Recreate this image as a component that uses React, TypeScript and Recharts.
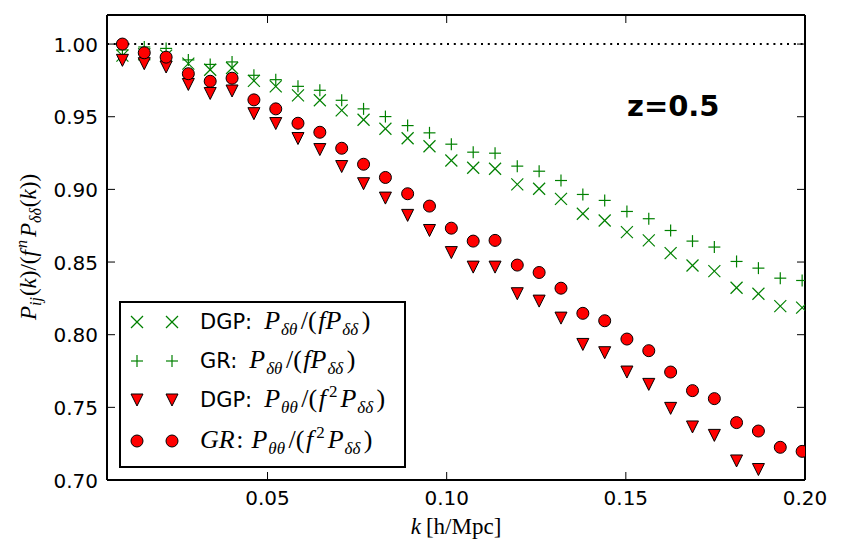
import React from 'react';
import {
  ScatterChart,
  Scatter,
  XAxis,
  YAxis,
  ReferenceLine,
  Legend,
  Customized,
} from 'recharts';

// Wavenumbers k [h/Mpc]
const K = [
  0.0095, 0.0156, 0.0217, 0.0279, 0.034, 0.0401, 0.0462, 0.0523, 0.0585, 0.0646,
  0.0707, 0.0768, 0.0829, 0.0891, 0.0952, 0.1013, 0.1074, 0.1135, 0.1197, 0.1258,
  0.1319, 0.138, 0.1441, 0.1503, 0.1564, 0.1625, 0.1686, 0.1747, 0.1809, 0.187,
  0.1931, 0.1992,
];

// DGP: P_dt / (f P_dd)
const DGP_DT = [
  0.992, 0.993, 0.992, 0.9865, 0.9823, 0.9835, 0.9747, 0.9709, 0.9647, 0.9613,
  0.9544, 0.9479, 0.9417, 0.9352, 0.9297, 0.9199, 0.9149, 0.9142, 0.9034, 0.9004,
  0.8935, 0.8832, 0.8786, 0.8706, 0.8649, 0.8561, 0.8476, 0.8437, 0.8323, 0.8282,
  0.8197, 0.8186,
];

// GR: P_dt / (f P_dd)
const GR_DT = [
  0.996, 0.998, 0.997, 0.9891, 0.986, 0.9877, 0.9785, 0.9755, 0.9709, 0.9682,
  0.9613, 0.9554, 0.9501, 0.9439, 0.9389, 0.9311, 0.9256, 0.9249, 0.916, 0.9125,
  0.9061, 0.8965, 0.8924, 0.8848, 0.8798, 0.8717, 0.8644, 0.8603, 0.8504, 0.8458,
  0.8389, 0.8373,
];

// DGP: P_tt / (f^2 P_dd)  (remaining points fall below the axis range)
const DGP_TT = [
  0.9888, 0.9865, 0.9842, 0.9722, 0.966, 0.9677, 0.9521, 0.9453, 0.935, 0.9274,
  0.9157, 0.9039, 0.894, 0.8821, 0.8717, 0.8565, 0.8465, 0.8465, 0.8282, 0.8231,
  0.8114, 0.7933, 0.7876, 0.7743, 0.7658, 0.7493, 0.7365, 0.7307, 0.7131, 0.7072,
];

// GR: P_tt / (f^2 P_dd)
const GR_TT = [
  1.0, 0.994, 0.991, 0.9796, 0.9744, 0.9765, 0.9616, 0.9554, 0.9455, 0.9393,
  0.9283, 0.9173, 0.9082, 0.897, 0.8885, 0.8733, 0.8644, 0.8649, 0.8479, 0.8428,
  0.832, 0.8147, 0.8096, 0.797, 0.789, 0.7743, 0.7615, 0.756, 0.7395, 0.7337,
  0.7225, 0.7197,
];

const X_TICKS = [0.05, 0.1, 0.15, 0.2];
const Y_TICKS = [0.7, 0.75, 0.8, 0.85, 0.9, 0.95, 1.0];
const X_DOMAIN: [number, number] = [0.0052, 0.2];
const Y_DOMAIN: [number, number] = [0.7, 1.02];
const REDSHIFT_LABEL = 'z=0.5';

const W = 843;
const H = 559;
const MARGIN = { top: 15, right: 38, left: 0, bottom: 0 };
const Y_AXIS_W = 107;
const X_AXIS_H = 79;
const PLOT_W = W - MARGIN.right - Y_AXIS_W;
const PLOT_H = H - MARGIN.top - X_AXIS_H;

const GREEN = '#008000';
const RED = '#ff0000';
const SANS = '"DejaVu Sans", sans-serif';
const MATH = '"Liberation Serif", "DejaVu Serif", serif';
const TICK_LEN = 8;
const MS = 6; // marker half-size

const toPoints = (vals: number[]) => vals.map((v, i) => ({ k: K[i], v }));

const XMark = ({ cx, cy }: any) => (
  <g stroke={GREEN} strokeWidth={1.2}>
    <line x1={cx - MS} y1={cy - MS} x2={cx + MS} y2={cy + MS} />
    <line x1={cx - MS} y1={cy + MS} x2={cx + MS} y2={cy - MS} />
  </g>
);

const PlusMark = ({ cx, cy }: any) => (
  <g stroke={GREEN} strokeWidth={1.2}>
    <line x1={cx - MS} y1={cy} x2={cx + MS} y2={cy} />
    <line x1={cx} y1={cy - MS} x2={cx} y2={cy + MS} />
  </g>
);

const TriMark = ({ cx, cy }: any) => (
  <path
    d={`M${cx - MS},${cy - MS} L${cx + MS},${cy - MS} L${cx},${cy + MS} Z`}
    fill={RED}
    stroke="#000"
    strokeWidth={1}
  />
);

const DotMark = ({ cx, cy }: any) => (
  <circle cx={cx} cy={cy} r={MS} fill={RED} stroke="#000" strokeWidth={1} />
);

const XTick = ({ x, y, payload }: any) => (
  <g>
    <line x1={x} y1={y} x2={x} y2={y - TICK_LEN} stroke="#000" strokeWidth={1} />
    <line x1={x} y1={y - PLOT_H} x2={x} y2={y - PLOT_H + TICK_LEN} stroke="#000" strokeWidth={1} />
    <text x={x} y={y + 25} textAnchor="middle" fontFamily={SANS} fontSize={20} fill="#000">
      {payload.value.toFixed(2)}
    </text>
  </g>
);

const YTick = ({ x, y, payload }: any) => (
  <g>
    <line x1={x} y1={y} x2={x + TICK_LEN} y2={y} stroke="#000" strokeWidth={1} />
    <line x1={x + PLOT_W} y1={y} x2={x + PLOT_W - TICK_LEN} y2={y} stroke="#000" strokeWidth={1} />
    <text x={x - 9} y={y + 7.5} textAnchor="end" fontFamily={SANS} fontSize={20} fill="#000">
      {payload.value.toFixed(2)}
    </text>
  </g>
);

// Inline math pieces for the legend
const Sub = ({ children }: any) => (
  <span style={{ fontSize: 17, position: 'relative', top: 6, marginLeft: 1, marginRight: 2 }}>{children}</span>
);
const Sup = ({ children }: any) => (
  <span style={{ fontSize: 17, fontStyle: 'normal', position: 'relative', top: -10, marginLeft: 3, marginRight: 3 }}>
    {children}
  </span>
);
const Up = ({ children }: any) => (
  <span style={{ fontStyle: 'normal', margin: '0 1.5px' }}>{children}</span>
);
const Math = ({ children, gap = 12 }: any) => (
  <span style={{ fontFamily: MATH, fontStyle: 'italic', fontSize: 26, marginLeft: gap }}>{children}</span>
);

const SERIES = [
  {
    key: 'dgp-dt',
    data: toPoints(DGP_DT),
    shape: XMark,
    label: (
      <>
        <span style={{ fontFamily: SANS }}>DGP:</span>
        <Math>
          P<Sub>δθ</Sub>
          <Up>/(</Up>fP<Sub>δδ</Sub>
          <Up>)</Up>
        </Math>
      </>
    ),
  },
  {
    key: 'gr-dt',
    data: toPoints(GR_DT),
    shape: PlusMark,
    label: (
      <>
        <span style={{ fontFamily: SANS }}>GR:</span>
        <Math>
          P<Sub>δθ</Sub>
          <Up>/(</Up>fP<Sub>δδ</Sub>
          <Up>)</Up>
        </Math>
      </>
    ),
  },
  {
    key: 'dgp-tt',
    data: toPoints(DGP_TT),
    shape: TriMark,
    label: (
      <>
        <span style={{ fontFamily: SANS }}>DGP:</span>
        <Math>
          P<Sub>θθ</Sub>
          <Up>/(</Up>f<Sup>2</Sup>P<Sub>δδ</Sub>
          <Up>)</Up>
        </Math>
      </>
    ),
  },
  {
    key: 'gr-tt',
    data: toPoints(GR_TT),
    shape: DotMark,
    label: (
      <Math gap={0}>
        GR<Up>:</Up> P<Sub>θθ</Sub>
        <Up>/(</Up>f<Sup>2</Sup>P<Sub>δδ</Sub>
        <Up>)</Up>
      </Math>
    ),
  },
];

const LEGEND_ROWS = [21, 60, 99, 140];

const LegendBox = () => (
  <div
    style={{
      position: 'relative',
      width: 287,
      height: 167,
      boxSizing: 'border-box',
      border: '2px solid #000',
      background: '#fff',
    }}
  >
    {SERIES.map((s, i) => {
      const Shape = s.shape;
      return (
        <div
          key={s.key}
          style={{
            position: 'absolute',
            left: 0,
            top: LEGEND_ROWS[i] - 2 - 16,
            height: 32,
            width: 283,
            display: 'flex',
            alignItems: 'center',
            whiteSpace: 'nowrap',
          }}
        >
          <svg width={79} height={32} style={{ flex: 'none' }}>
            <Shape cx={16} cy={16} />
            <Shape cx={51} cy={16} />
          </svg>
          <span style={{ fontSize: 21, lineHeight: '32px', color: '#000', fontFamily: SANS }}>{s.label}</span>
        </div>
      );
    })}
  </div>
);

const Annotations = () => (
  <g>
    <text x={627} y={116} fontFamily={SANS} fontWeight="bold" fontSize={29} fill="#000">
      {REDSHIFT_LABEL}
    </text>
    <text
      x={36}
      y={247}
      transform="rotate(-90, 36, 247)"
      textAnchor="middle"
      fontFamily={MATH}
      fontSize={23}
      fill="#000"
    >
      <tspan fontStyle="italic">P</tspan>
      <tspan fontStyle="italic" fontSize={16} dy={5}>ij</tspan>
      <tspan dy={-5} dx={1}>(</tspan>
      <tspan fontStyle="italic">k</tspan>
      <tspan>)/(</tspan>
      <tspan fontStyle="italic">f</tspan>
      <tspan fontStyle="italic" fontSize={16} dy={-9} dx={2}>n</tspan>
      <tspan fontStyle="italic" dy={9} dx={3}>P</tspan>
      <tspan fontStyle="italic" fontSize={16} dy={5}>δδ</tspan>
      <tspan dy={-5} dx={1}>(</tspan>
      <tspan fontStyle="italic">k</tspan>
      <tspan>))</tspan>
    </text>
    <text x={456} y={534} textAnchor="middle" fontFamily={MATH} fontSize={23} fill="#000">
      <tspan fontStyle="italic">k</tspan>
      <tspan dx={5}>[h/Mpc]</tspan>
    </text>
  </g>
);

export default function App() {
  return (
    <div style={{ position: 'absolute', left: 0, top: 0, width: W, height: H, background: '#fff' }}>
      <ScatterChart width={W} height={H} margin={MARGIN}>
        <XAxis
          type="number"
          dataKey="k"
          domain={X_DOMAIN}
          ticks={X_TICKS}
          allowDataOverflow
          height={X_AXIS_H}
          tickSize={0}
          tickMargin={0}
          tickLine={false}
          axisLine={{ stroke: '#000', strokeWidth: 2 }}
          tick={<XTick />}
          interval={0}
        />
        <YAxis
          type="number"
          dataKey="v"
          domain={Y_DOMAIN}
          ticks={Y_TICKS}
          allowDataOverflow
          width={Y_AXIS_W}
          tickSize={0}
          tickMargin={0}
          tickLine={false}
          axisLine={{ stroke: '#000', strokeWidth: 2 }}
          tick={<YTick />}
          interval={0}
        />
        <ReferenceLine y={1.0} stroke="#000" strokeWidth={2} strokeDasharray="2 4.8" />
        {SERIES.map((s) => (
          <Scatter
            key={s.key}
            name={s.key}
            data={s.data}
            shape={s.shape}
            isAnimationActive={false}
          />
        ))}
        <ReferenceLine y={Y_DOMAIN[1]} stroke="#000" strokeWidth={2} />
        <ReferenceLine x={X_DOMAIN[1]} stroke="#000" strokeWidth={2} />
        <Legend
          layout="horizontal"
          verticalAlign="middle"
          align="center"
          wrapperStyle={{ left: 119, top: 301, width: 287, height: 167 }}
          content={<LegendBox />}
        />
        <Customized component={Annotations} />
      </ScatterChart>
    </div>
  );
}
